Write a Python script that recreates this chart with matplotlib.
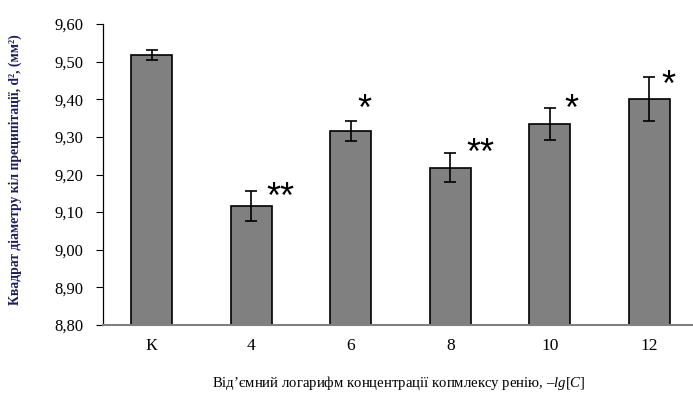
#!/usr/bin/env python3
# -*- coding: utf-8 -*-

import matplotlib
matplotlib.use('Agg')
import matplotlib.pyplot as plt

# data
categories = ['К', '4', '6', '8', '10', '12']
means = [9.517, 9.116, 9.315, 9.218, 9.334, 9.400]
errors = [0.013, 0.040, 0.027, 0.039, 0.042, 0.058]
marks = ['', '**', '*', '**', '*', '*']
mark_levels = [None, 9.137, 9.371, 9.254, 9.371, 9.433]

# styling of the significance marks (x offset from bar centre)
mark_dx = [0.0, 0.29, 0.14, 0.30, 0.22, 0.19]

yticks = [8.80, 8.90, 9.00, 9.10, 9.20, 9.30, 9.40, 9.50, 9.60]


def main():
    plt.rcParams['font.family'] = ['Liberation Serif', 'DejaVu Serif']
    plt.rcParams['mathtext.fontset'] = 'custom'
    plt.rcParams['mathtext.rm'] = 'Liberation Serif'
    plt.rcParams['mathtext.it'] = 'Liberation Serif:italic'

    fig = plt.figure(figsize=(6.93, 3.94), dpi=100)
    ax = fig.add_axes([0.1486, 0.1751, 0.8514, 0.7640])

    x = list(range(len(categories)))
    ax.bar(x, [m - 8.8 for m in means], bottom=8.8, width=0.41,
           color='#808080', edgecolor='black', linewidth=1.2, zorder=2)
    ax.errorbar(x, means, yerr=errors, fmt='none', ecolor='black',
                elinewidth=1.2, capsize=4.3, capthick=1.2, zorder=3)

    for xi, mark, lvl, dx in zip(x, marks, mark_levels, mark_dx):
        if mark:
            ax.text(xi + dx, lvl, mark, ha='center', va='center',
                    fontsize=26, family='Liberation Sans', color='black')

    ax.set_xlim(-0.49, 5.44)
    ax.set_ylim(8.8, 9.6)
    ax.set_yticks(yticks)
    ax.set_yticklabels([f'{v:.2f}'.replace('.', ',') for v in yticks],
                       fontsize=12)
    ax.set_xticks(x)
    ax.set_xticklabels(categories, fontsize=12.5)
    ax.tick_params(axis='x', length=0, pad=9)
    ax.tick_params(axis='y', length=5, width=0.8, direction='out', pad=9)

    ax.spines['top'].set_visible(False)
    ax.spines['right'].set_visible(False)
    ax.spines['left'].set_color('black')
    ax.spines['left'].set_linewidth(0.9)
    ax.spines['bottom'].set_color('#808080')
    ax.spines['bottom'].set_linewidth(1.5)

    fig.text(0.022, 0.57, 'Квадрат діаметру кіл преципітації, d², (мм²)',
             rotation=90, ha='center', va='center', fontsize=9.8,
             fontweight='bold', color='#1c1c5a')
    fig.text(0.575, 0.028,
             'Від’ємний логарифм концентрації копмлексу ренію, –$lg$[$C$]',
             ha='center', va='center', fontsize=10.6)

    fig.savefig('out.png', dpi=100)
    plt.close(fig)


if __name__ == '__main__':
    main()
